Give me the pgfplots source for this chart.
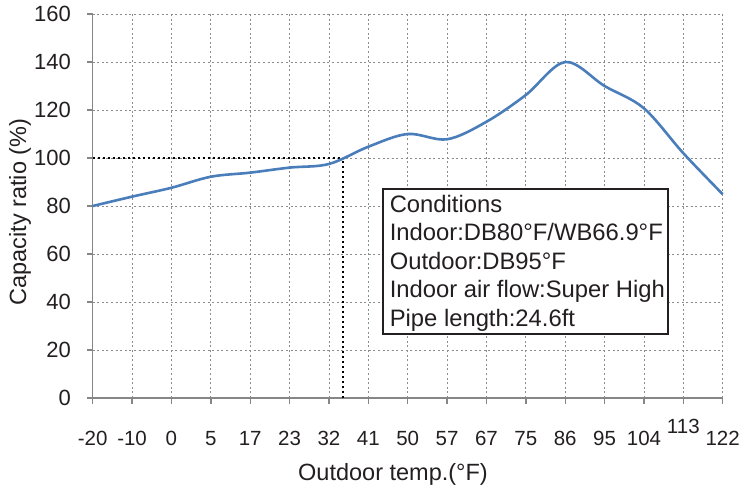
\documentclass[border=0pt]{standalone}
\usepackage{fontspec}
\setmainfont{Liberation Sans}
\usepackage{pgfplots}
\pgfplotsset{compat=1.18}
\definecolor{txt}{HTML}{231F20}
\definecolor{axgray}{HTML}{868686}
\definecolor{gridgray}{HTML}{8C8C8C}
\definecolor{curve}{HTML}{4A7EBB}
\begin{document}
\begin{tikzpicture}
\useasboundingbox (-92.7pt,-90pt) rectangle (652.3pt,398pt);
\begin{axis}[
  scale only axis,
  width=630pt, height=384pt,
  xmin=0, xmax=16, ymin=0, ymax=160,
  axis x line*=bottom, axis y line*=left,
  axis line style={axgray, line width=1.6pt},
  xtick={0,...,16},
  xticklabels={{-20},{-10},{0},{5},{17},{23},{32},{41},{50},{57},{67},{75},{86},{95},{104},{\raisebox{12pt}{113}},{122}},
  ytick={0,20,...,160},
  tick align=outside,
  major tick length=6pt,
  tick style={axgray, line width=1.4pt},
  grid=major,
  major grid style={gridgray, line width=0.9pt, dash pattern=on 2pt off 2.6pt},
  /pgf/number format/assume math mode=true,
  ticklabel style={text=txt},
  xticklabel style={font=\fontsize{20.5}{25}\selectfont, anchor=base, inner sep=0pt, yshift=-41pt},
  yticklabel style={font=\fontsize{22}{26}\selectfont, anchor=east, inner sep=0pt, xshift=-15.7pt},
  xlabel={Outdoor temp.(°F)},
  ylabel={Capacity ratio (\%)},
  label style={font=\fontsize{23.5}{27}\selectfont, text=txt},
  xlabel style={at={(axis description cs:0.4767,0)}, anchor=center, yshift=-76pt},
  ylabel style={at={(axis description cs:-0.1154,0.484)}, anchor=center},
  clip=false,
]
\addplot[black, line width=2.5pt, dash pattern=on 2.4pt off 2.6pt] coordinates {(0,100) (6.36,100)};
\addplot[black, line width=2.5pt, dash pattern=on 2.4pt off 2.6pt] coordinates {(6.36,0) (6.36,100)};
\addplot[curve, line width=2.6pt, smooth, tension=0.55] coordinates {
(0,80) (1,83.9) (2,87.6) (3,92.2) (4,93.9) (5,96) (6,97.5) (7,104.7) (8,110) (9,107.8)
(10,115.1) (11,126.25) (12,140) (13,130) (14,120.7) (15,102) (16,84.9)};
\draw[txt, line width=2pt, fill=white] (axis cs:7.375,87) rectangle (axis cs:14.62,26.67);
\node[anchor=north west, inner sep=0pt, align=left, text=txt,
  font=\fontsize{23.8}{28.6}\selectfont] at ([xshift=6.5pt,yshift=-5.5pt]axis cs:7.375,87)
  {Conditions\\Indoor:DB80°F/WB66.9°F\\Outdoor:DB95°F\\Indoor air flow:Super High\\Pipe length:24.6ft};
\end{axis}
\end{tikzpicture}
\end{document}
